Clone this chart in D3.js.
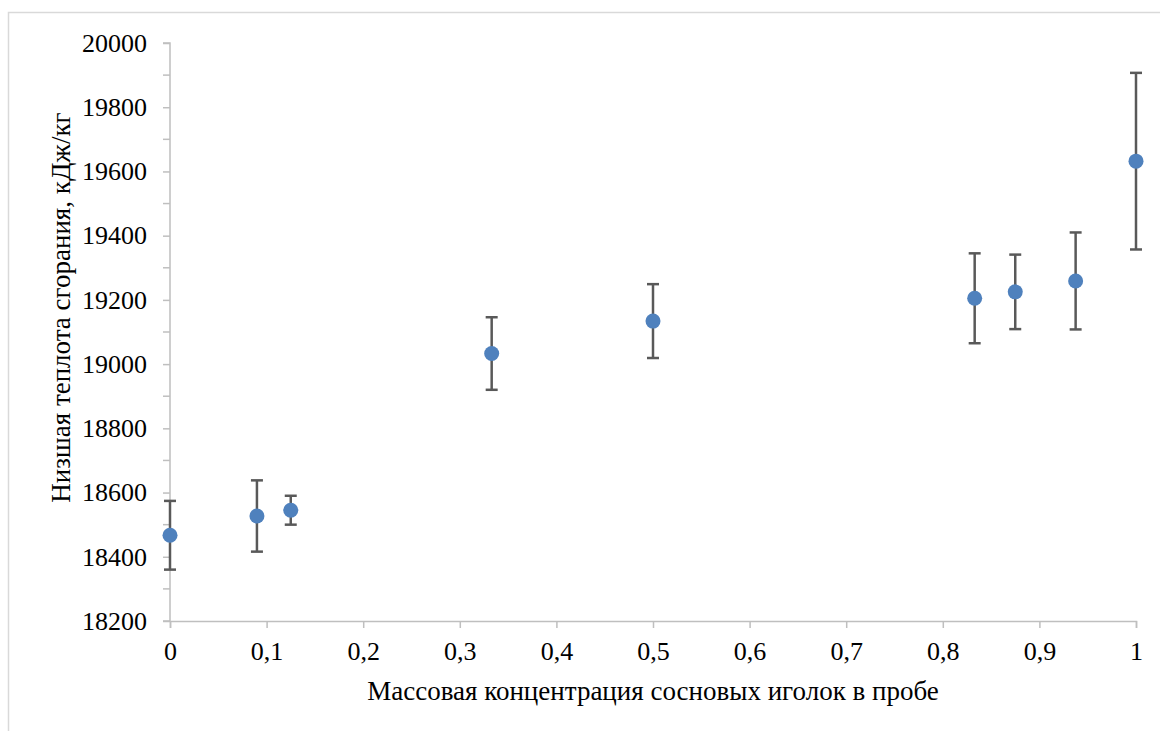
<!DOCTYPE html>
<html>
<head>
<meta charset="utf-8">
<script src="https://cdn.jsdelivr.net/npm/d3@7"></script>
</head>
<body style="margin:0;padding:0;background:#fff">
<svg id="chart" width="1160" height="731" style="display:block"></svg>
<script>
const concentration = [0, 0.09, 0.125, 0.333, 0.5, 0.833, 0.875, 0.9375, 1];
const heatValue     = [18467, 18527, 18545, 19033, 19134, 19205, 19225, 19259, 19632];
const errorPlusMinus = [107, 111, 45, 113, 115, 140, 116, 151, 275];
const xTickValues = [0, 0.1, 0.2, 0.3, 0.4, 0.5, 0.6, 0.7, 0.8, 0.9, 1];
const yTickValues = [18200, 18400, 18600, 18800, 19000, 19200, 19400, 19600, 19800, 20000];
const xTitle = "Массовая концентрация сосновых иголок в пробе";
const yTitle = "Низшая теплота сгорания, кДж/кг";

const FONT = "'Liberation Serif'";
const svg = d3.select("#chart");
const W = 1160, H = 731;
const m = { left: 170, right: 24, top: 43, bottom: 110 };

// outer chart border (top and left visible)
svg.append("rect").attr("x", 8.5).attr("y", 12.5).attr("width", W + 10).attr("height", H + 10)
  .attr("fill", "none").attr("stroke", "#d9d9d9").attr("stroke-width", 1.5);

const x = d3.scaleLinear().domain([0, 1]).range([m.left, W - m.right]);
const y = d3.scaleLinear().domain([18200, 20000]).range([H - m.bottom, m.top]);

const axisColor = "#bfbfbf";

// Y axis
const yAxis = d3.axisLeft(y).tickValues(yTickValues).tickSize(7).tickPadding(16).tickFormat(d3.format("d"));
const gy = svg.append("g").attr("transform", `translate(${m.left},0)`).call(yAxis)
  .attr("font-family", "Liberation Serif").attr("font-size", 26);
gy.select(".domain").attr("stroke", axisColor).attr("stroke-width", 1.5).attr("d", `M-7,${y(18200)}H0V${y(20000)}H-7`);
gy.selectAll(".tick line").attr("stroke", axisColor).attr("stroke-width", 1.5);
gy.selectAll(".tick text").attr("fill", "#000").style("font-family", FONT).style("font-size", "26px");
// minor ticks
const minor = d3.range(18300, 20000, 200);
gy.selectAll(".minor").data(minor).enter().append("line")
  .attr("x1", -7).attr("x2", 0).attr("y1", d => y(d)).attr("y2", d => y(d))
  .attr("stroke", axisColor).attr("stroke-width", 1.5);

// X axis
const xAxis = d3.axisBottom(x).tickValues(xTickValues).tickSize(7).tickPadding(14)
  .tickFormat(d => d3.format("")(d).replace(".", ","));
const gx = svg.append("g").attr("transform", `translate(0,${y(18200)})`).call(xAxis)
  .attr("font-family", "Liberation Serif").attr("font-size", 26);
gx.select(".domain").attr("stroke", axisColor).attr("stroke-width", 1.5);
gx.selectAll(".tick line").attr("stroke", axisColor).attr("stroke-width", 1.5);
gx.selectAll(".tick text").attr("fill", "#000").style("font-family", FONT).style("font-size", "26px");

// Axis titles
svg.append("text").attr("x", (x(0) + x(1)) / 2).attr("y", 700)
  .style("font-family", FONT).style("font-size", "27px").attr("text-anchor", "middle").text(xTitle);
svg.append("text").attr("transform", `translate(70,${307.5}) rotate(-90)`)
  .style("font-family", FONT).style("font-size", "27px").attr("text-anchor", "middle").text(yTitle);

// Data
const data = concentration.map((c, i) => ({ c, v: heatValue[i], e: errorPlusMinus[i] }));
const errColor = "#595959";
const cap = 6;
const eb = svg.append("g");
data.forEach(d => {
  const g = eb.append("g").attr("stroke", errColor).attr("stroke-width", 2.5);
  g.append("line").attr("x1", x(d.c)).attr("x2", x(d.c)).attr("y1", y(d.v + d.e)).attr("y2", y(d.v - d.e));
  g.append("line").attr("x1", x(d.c) - cap).attr("x2", x(d.c) + cap).attr("y1", y(d.v + d.e)).attr("y2", y(d.v + d.e));
  g.append("line").attr("x1", x(d.c) - cap).attr("x2", x(d.c) + cap).attr("y1", y(d.v - d.e)).attr("y2", y(d.v - d.e));
});
svg.append("g").selectAll("circle").data(data).enter().append("circle")
  .attr("cx", d => x(d.c)).attr("cy", d => y(d.v)).attr("r", 7.5)
  .attr("fill", "#4f81bd");
</script>
</body>
</html>
